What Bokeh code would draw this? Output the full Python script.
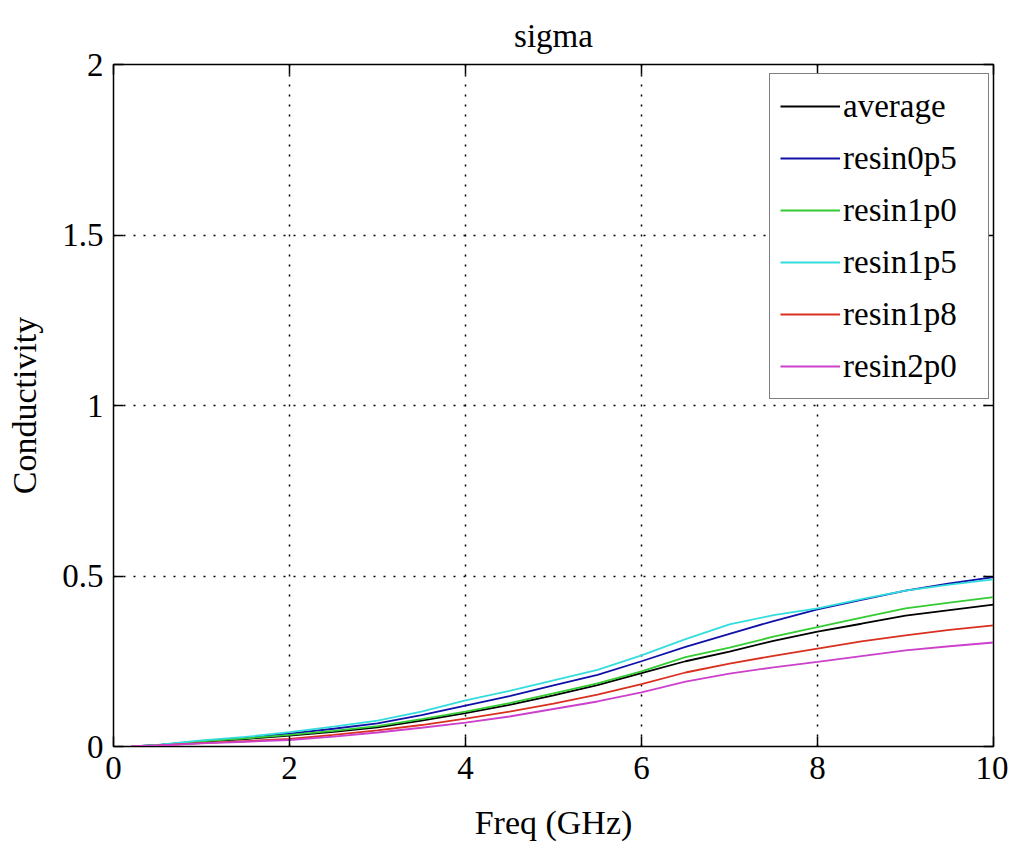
from bokeh.plotting import figure
from bokeh.models import (Range1d, FixedTicker, LinearAxis, CustomJSTickFormatter,
                          Legend, LegendItem)
from bokeh.embed import file_html
from bokeh.resources import INLINE

freq = [0.2, 0.5, 1.0, 1.5, 2.0, 2.5, 3.0, 3.5, 4.0, 4.5, 5.0, 5.5, 6.0, 6.5,
        7.0, 7.5, 8.0, 8.5, 9.0, 9.5, 10.0]
average = [0.0, 0.004, 0.014, 0.022, 0.032, 0.043, 0.056, 0.076, 0.098, 0.122,
           0.150, 0.180, 0.215, 0.250, 0.278, 0.310, 0.337, 0.360, 0.384, 0.400, 0.416]
resin0p5 = [0.0, 0.004, 0.016, 0.026, 0.038, 0.052, 0.068, 0.092, 0.120, 0.148,
            0.179, 0.210, 0.250, 0.292, 0.330, 0.368, 0.402, 0.430, 0.457, 0.478, 0.497]
resin1p0 = [0.0, 0.004, 0.015, 0.024, 0.034, 0.046, 0.060, 0.080, 0.102, 0.127,
            0.156, 0.185, 0.220, 0.262, 0.290, 0.322, 0.350, 0.378, 0.405, 0.422, 0.438]
resin1p5 = [0.0, 0.005, 0.018, 0.028, 0.042, 0.058, 0.076, 0.102, 0.135, 0.163,
            0.194, 0.225, 0.267, 0.315, 0.358, 0.385, 0.405, 0.432, 0.457, 0.475, 0.490]
resin1p8 = [0.0, 0.003, 0.010, 0.016, 0.022, 0.034, 0.047, 0.063, 0.082, 0.102,
            0.126, 0.152, 0.183, 0.217, 0.243, 0.266, 0.287, 0.308, 0.326, 0.342, 0.355]
resin2p0 = [0.0, 0.003, 0.009, 0.014, 0.019, 0.029, 0.041, 0.055, 0.070, 0.088,
            0.110, 0.132, 0.159, 0.190, 0.214, 0.232, 0.248, 0.265, 0.282, 0.294, 0.305]

series_names = ["average", "resin0p5", "resin1p0", "resin1p5", "resin1p8", "resin2p0"]
series_vals = [average, resin0p5, resin1p0, resin1p5, resin1p8, resin2p0]
colors = ["#000000", "#1010a8", "#33cc33", "#33dddd", "#d93020", "#cc40cc"]

x_ticks = [0, 2, 4, 6, 8, 10]
y_ticks = [0, 0.5, 1, 1.5, 2]

FONT = "Liberation Serif"

p = figure(width=1008, height=848, output_backend="svg", toolbar_location=None,
           x_range=Range1d(0, 10), y_range=Range1d(0, 2),
           title="sigma", x_axis_label="Freq (GHz)", y_axis_label="Conductivity",
           min_border_left=113, min_border_right=15, min_border_top=64,
           min_border_bottom=102)
p.background_fill_color = "white"
p.border_fill_color = "white"
p.outline_line_color = "black"
p.outline_line_width = 1.5

p.title.align = "center"
p.title.text_font = FONT
p.title.text_font_size = "33px"
p.title.text_font_style = "normal"
p.title.text_color = "black"
p.title.standoff = 22

fmt = CustomJSTickFormatter(code="return String(tick);")
blank = CustomJSTickFormatter(code="return '';")

for ax in (p.xaxis[0], p.yaxis[0]):
    ax.major_label_text_font = FONT
    ax.major_label_text_font_size = "33px"
    ax.major_label_text_font_style = "normal"
    ax.major_label_text_color = "black"
    ax.axis_label_text_font = FONT
    ax.axis_label_text_font_size = "34px"
    ax.axis_label_text_font_style = "normal"
    ax.axis_label_text_color = "black"
    ax.major_tick_in = 10
    ax.major_tick_out = 0
    ax.minor_tick_line_color = None
    ax.axis_line_color = "black"
    ax.major_tick_line_color = "black"
    ax.major_tick_line_width = 1.5
    ax.formatter = fmt
p.xaxis[0].ticker = FixedTicker(ticks=x_ticks)
p.yaxis[0].ticker = FixedTicker(ticks=y_ticks)
p.xaxis[0].major_label_standoff = 10
p.xaxis[0].axis_label_standoff = 22
p.yaxis[0].major_label_standoff = 10
p.yaxis[0].axis_label_standoff = 16

top_ax = LinearAxis(ticker=FixedTicker(ticks=x_ticks), formatter=blank,
                    major_tick_in=10, major_tick_out=0, minor_tick_line_color=None,
                    major_tick_line_width=1.5, major_label_standoff=0)
right_ax = LinearAxis(ticker=FixedTicker(ticks=y_ticks), formatter=blank,
                      major_tick_in=10, major_tick_out=0, minor_tick_line_color=None,
                      major_tick_line_width=1.5, major_label_standoff=0)
p.add_layout(top_ax, "above")
p.add_layout(right_ax, "right")

p.xgrid.ticker = FixedTicker(ticks=x_ticks)
p.ygrid.ticker = FixedTicker(ticks=y_ticks)
for g in (p.xgrid[0], p.ygrid[0]):
    g.grid_line_color = "black"
    g.grid_line_dash = "2 8"
    g.grid_line_width = 1.5

items = []
for name, vals, c in zip(series_names, series_vals, colors):
    r = p.line(freq, vals, line_color=c, line_width=1.8)
    items.append(LegendItem(label=name, renderers=[r]))

legend = Legend(items=items, location=(656, 347))
legend.label_text_font = FONT
legend.label_text_font_size = "33px"
legend.label_text_font_style = "normal"
legend.label_text_color = "black"
legend.glyph_width = 60
legend.glyph_height = 44
legend.label_height = 44
legend.label_width = 135
legend.spacing = 8
legend.padding = 10
legend.margin = 0
legend.label_standoff = 3
legend.border_line_color = "black"
legend.border_line_width = 1.5
legend.background_fill_alpha = 1.0
p.add_layout(legend, "center")

open("out.html", "w").write(file_html(p, INLINE))
